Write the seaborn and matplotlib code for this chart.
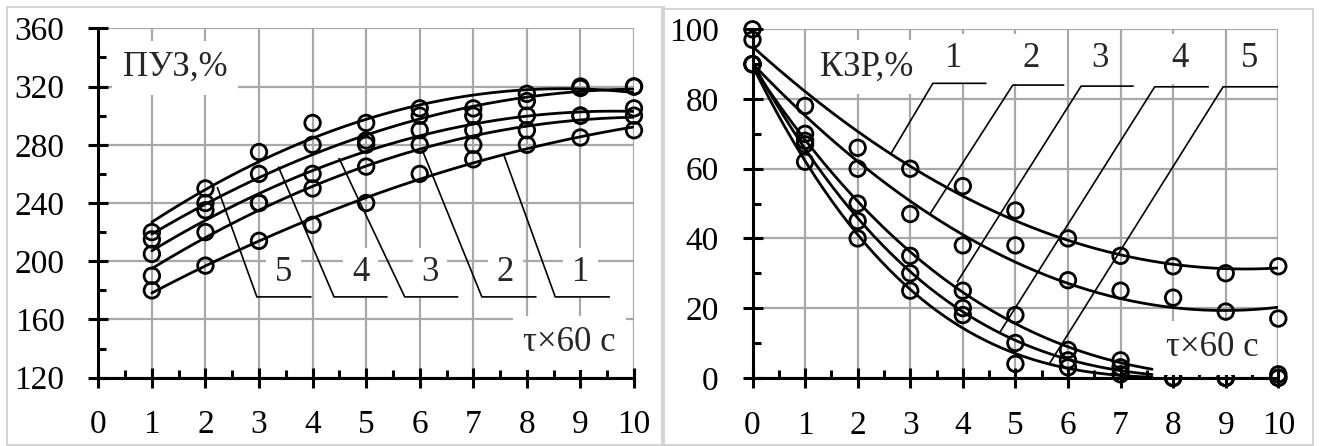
import numpy as np
import pandas as pd
import matplotlib
matplotlib.use("Agg")
import matplotlib.pyplot as plt
import seaborn as sns
from matplotlib.ticker import MultipleLocator
from matplotlib.patches import Rectangle

# ---- ПУЗ, % versus time (τ×60 c), five regimes ----
t_puz = [1, 2, 3, 4, 5, 6, 7, 8, 9, 10]
puz_1 = [180, 197, 214, 225, 240, 260, 270, 280, 285, 290]
puz_2 = [190, 220, 240, 250, 265, 280, 280, 290, 300, 300]
puz_3 = [205, 235, 240, 260, 280, 290, 290, 300, 300, 305]
puz_4 = [215, 240, 260, 280, 283, 300, 300, 310, 319, 320]
puz_5 = [220, 250, 275, 295, 295, 305, 305, 315, 320, 320]

# ---- КЗР, % versus time (τ×60 c), five regimes ----
t_kzr = [0, 1, 2, 3, 4, 5, 6, 7, 8, 9, 10]
kzr_1 = [100, 78, 66, 60, 55, 48, 40, 35, 32, 30, 32]
kzr_2 = [97, 70, 60, 47, 38, 38, 28, 25, 23, 19, 17]
kzr_3 = [90, 68, 50, 35, 25, 18, 8, 5, 0, 0, 1]
kzr_4 = [90, 67, 45, 30, 20, 10, 5, 3, 0, 0, 0]
kzr_5 = [90, 62, 40, 25, 18, 4, 3, 1, 0, 0, 0]

curve_ids = ["1", "2", "3", "4", "5"]
# polynomial trend per curve: (degree, draw up to t)
kzr_trend = {"1": (2, 10), "2": (2, 10), "3": (3, 7.6), "4": (3, 7.6), "5": (3, 7.6)}

puz = pd.DataFrame({"t": t_puz * 5,
                    "v": puz_1 + puz_2 + puz_3 + puz_4 + puz_5,
                    "curve": sum([[c] * len(t_puz) for c in curve_ids], [])})
kzr = pd.DataFrame({"t": t_kzr * 5,
                    "v": kzr_1 + kzr_2 + kzr_3 + kzr_4 + kzr_5,
                    "curve": sum([[c] * len(t_kzr) for c in curve_ids], [])})

sns.set_theme(style="white")
plt.rcParams["font.family"] = ["Liberation Serif", "DejaVu Serif"]

W, H = 1320, 446
fig = plt.figure(figsize=(W / 100, H / 100), dpi=100)
fig.patch.set_facecolor("white")


def px_axes(x0, x1, y_top, y_bot):
    return fig.add_axes([x0 / W, 1 - y_bot / H, (x1 - x0) / W, (y_bot - y_top) / H])


ax1 = px_axes(98.3, 634.0, 28.3, 377.7)
ax2 = px_axes(752.5, 1278.3, 29.3, 377.8)

# light frames round each panel
for (x0, y0, x1, y1) in [(7, 7, 664, 445), (662, 9, 1313, 445)]:
    fig.add_artist(Rectangle((x0 / W, 1 - y1 / H), (x1 - x0) / W, (y1 - y0) / H,
                             transform=fig.transFigure, fill=False,
                             edgecolor="#d0d0d0", lw=1.3))

TICK_FS = 24
LBL_FS = 25
GRID_C = "#a8a8a8"


def style_axes(ax, ymin, ymax, ymaj, ymin_step):
    ax.set_xlim(0, 10)
    ax.set_ylim(ymin, ymax)
    ax.xaxis.set_major_locator(MultipleLocator(1))
    ax.xaxis.set_minor_locator(MultipleLocator(0.5))
    ax.yaxis.set_major_locator(MultipleLocator(ymaj))
    ax.yaxis.set_minor_locator(MultipleLocator(ymin_step))
    ax.set_axisbelow(True)
    ax.grid(True, which="major", color=GRID_C, lw=1.6)
    for s in ("top", "right"):
        ax.spines[s].set_visible(False)
    for s in ("left", "bottom"):
        ax.spines[s].set_color("black")
        ax.spines[s].set_linewidth(2.2)
    ax.tick_params(which="major", direction="inout", length=14.5, width=2.2,
                   color="black", labelsize=TICK_FS, labelcolor="black")
    ax.tick_params(axis="y", which="major", pad=17)
    ax.tick_params(axis="x", which="major", pad=16)
    ax.tick_params(which="minor", direction="in", length=6, width=2.2, color="black")
    ax.tick_params(left=True, bottom=True, which="both")
    ax.set_facecolor("white")


def draw_points(ax, df):
    sns.scatterplot(data=df, x="t", y="v", ax=ax, marker="o", s=125,
                    color="black", linewidth=2.0, legend=False, zorder=3, clip_on=False)
    pts = ax.collections[-1]
    pts.set_facecolor("none")
    pts.set_edgecolor("black")


def draw_trend(ax, x, y, deg, draw_from, draw_to):
    coef = np.polyfit(np.asarray(x, float), np.asarray(y, float), deg)
    xs = np.linspace(draw_from, draw_to, 200)
    sns.lineplot(x=xs, y=np.polyval(coef, xs), ax=ax, color="black", lw=2.0,
                 zorder=2.5, legend=False)


def leader(ax, xs, ys, label, lx, ly):
    ax.plot(xs, ys, color="black", lw=1.2, zorder=2.4, solid_capstyle="butt")
    ax.text(lx, ly, label, ha="center", va="center", fontsize=LBL_FS, zorder=1.5,
            bbox=dict(boxstyle="square,pad=0.25", fc="white", ec="none"))


# ---------------- left panel: ПУЗ ----------------
style_axes(ax1, 120, 360, 40, 20)
puz_series = {"1": puz_1, "2": puz_2, "3": puz_3, "4": puz_4, "5": puz_5}
for c in curve_ids:
    draw_trend(ax1, t_puz, puz_series[c], 2, 1, 10)
draw_points(ax1, puz)

puz_leaders = {
    "5": ([2.22, 2.96, 3.98], 3.46),
    "4": ([3.36, 4.40, 5.40], 4.90),
    "3": ([4.49, 5.72, 6.72], 6.19),
    "2": ([6.04, 7.16, 8.18], 7.60),
    "1": ([7.57, 8.53, 9.55], 9.00),
}
puz_leader_start = {"5": 251, "4": 265, "3": 271, "2": 277, "1": 273}
for c, (xs, lx) in puz_leaders.items():
    leader(ax1, xs, [puz_leader_start[c], 175.5, 175.5], c, lx, 192)

ax1.text(1.43, 333, "ПУЗ,%", ha="center", va="center", fontsize=LBL_FS, zorder=1.5,
         bbox=dict(boxstyle="square,pad=0.3", fc="white", ec="none"))
ax1.text(8.80, 144, "τ×60 c", ha="center", va="center", fontsize=LBL_FS, zorder=4,
         bbox=dict(boxstyle="square,pad=0.3", fc="white", ec="none"))

# ---------------- right panel: КЗР ----------------
style_axes(ax2, 0, 100, 20, 10)
kzr_series = {"1": kzr_1, "2": kzr_2, "3": kzr_3, "4": kzr_4, "5": kzr_5}
for c in curve_ids:
    deg, draw_to = kzr_trend[c]
    draw_trend(ax2, t_kzr, kzr_series[c], deg, 0, draw_to)
draw_points(ax2, kzr)

kzr_leaders = {
    "1": ([2.64, 3.43, 4.45], [64.5, 84.5, 84.5], 3.83),
    "2": ([3.37, 4.95, 5.93], [46.9, 84.0, 84.0], 5.29),
    "3": ([3.89, 6.25, 7.25], [27.4, 83.7, 83.7], 6.61),
    "4": ([4.69, 7.65, 8.68], [12.7, 83.5, 83.5], 8.13),
    "5": ([5.65, 8.95, 10.0], [4.1, 83.5, 83.5], 9.46),
}
for c, (xs, ys, lx) in kzr_leaders.items():
    leader(ax2, xs, ys, c, lx, 91.5)

ax2.text(2.18, 89.2, "КЗР,%", ha="center", va="center", fontsize=LBL_FS, zorder=1.5,
         bbox=dict(boxstyle="square,pad=0.3", fc="white", ec="none"))
ax2.text(8.74, 8.6, "τ×60 c", ha="center", va="center", fontsize=LBL_FS, zorder=4,
         bbox=dict(boxstyle="square,pad=0.3", fc="white", ec="none"))

for ax in (ax1, ax2):
    ax.set_xlabel("")
    ax.set_ylabel("")

fig.savefig("out.png", dpi=100, facecolor="white")
